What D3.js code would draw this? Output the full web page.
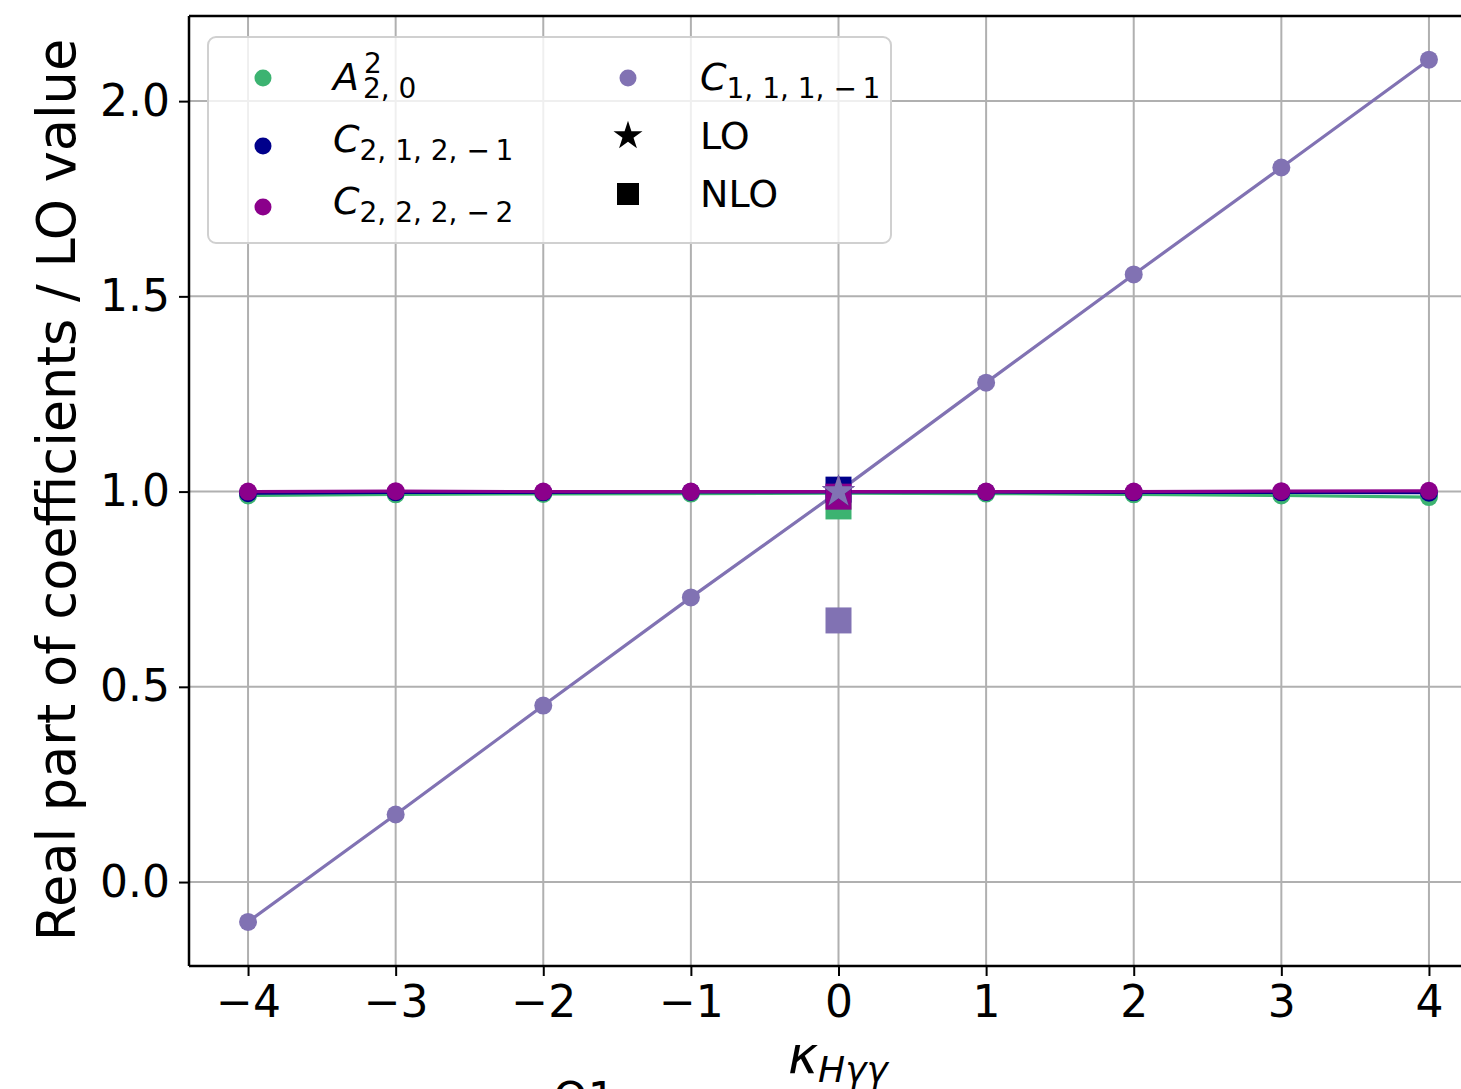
<!DOCTYPE html>
<html>
<head>
<meta charset="utf-8">
<script src="https://cdn.jsdelivr.net/npm/d3@7"></script>
<style>
  body { margin: 0; background: white; }
  svg { display: block; font-family: "DejaVu Sans", sans-serif; }
</style>
</head>
<body>
<div id="chartContainer"></div>
<script>
// kappa_Hgg scan points
const kappa = [-4, -3, -2, -1, 0, 1, 2, 3, 4];

// real part of coefficients, normalised to the LO value
const a220   = [0.990, 0.993, 0.994, 0.995, 0.996, 0.995, 0.993, 0.990, 0.986];
const c212m1 = [0.996, 0.998, 0.998, 0.999, 0.999, 0.999, 0.998, 0.998, 0.997];
const c222m2 = [1.000, 1.001, 1.000, 1.000, 1.000, 1.000, 1.000, 1.001, 1.002];
const c111m1 = [-0.102, 0.173, 0.452, 0.729, 1.000, 1.279, 1.556, 1.830, 2.106];

// LO and NLO reference points at kappa = 0 (same order as series)
const loValues  = [1.0, 1.0, 1.0, 1.0];
const nloValues = [0.962, 1.005, 0.987, 0.670];

const xTicks = [-4, -3, -2, -1, 0, 1, 2, 3, 4];
const yTicks = [0.0, 0.5, 1.0, 1.5, 2.0];

const seriesColors = ["#3cb371", "#00008b", "#8b008b", "#8172b3"];

let svg, x, y;

function initializeChart() {
    const W = 1461, H = 1089;
    const plot = { left: 189, top: 16, right: 1488, bottom: 966 };

    svg = d3.select("#chartContainer").append("svg")
        .attr("width", W)
        .attr("height", H);

    x = d3.scaleLinear().domain([-4.4, 4.4]).range([plot.left, plot.right]);
    y = d3.scaleLinear().domain([-0.215, 2.218]).range([plot.bottom, plot.top]);

    // grid
    svg.append("g").selectAll("line")
        .data(xTicks).enter().append("line")
        .attr("x1", d => x(d)).attr("x2", d => x(d))
        .attr("y1", plot.top).attr("y2", plot.bottom)
        .attr("stroke", "#b0b0b0").attr("stroke-width", 2);
    svg.append("g").selectAll("line")
        .data(yTicks).enter().append("line")
        .attr("x1", plot.left).attr("x2", plot.right)
        .attr("y1", d => y(d)).attr("y2", d => y(d))
        .attr("stroke", "#b0b0b0").attr("stroke-width", 2);

    // axes
    const xAxis = svg.append("g")
        .attr("transform", `translate(0,${plot.bottom})`)
        .call(d3.axisBottom(x).tickValues(xTicks).tickSize(10).tickPadding(10).tickSizeOuter(0));
    const yAxis = svg.append("g")
        .attr("transform", `translate(${plot.left},0)`)
        .call(d3.axisLeft(y).tickValues(yTicks).tickFormat(d3.format(".1f")).tickSize(10).tickPadding(9).tickSizeOuter(0));

    [xAxis, yAxis].forEach(ax => {
        ax.select(".domain").remove();
        ax.selectAll(".tick line").attr("stroke", "black").attr("stroke-width", 2);
        ax.selectAll(".tick text")
            .attr("font-size", 44)
            .attr("font-family", "DejaVu Sans")
            .attr("fill", "black");
    });

    // spines (right one falls outside the figure)
    svg.append("line").attr("x1", plot.left).attr("x2", plot.left)
        .attr("y1", plot.top).attr("y2", plot.bottom)
        .attr("stroke", "black").attr("stroke-width", 2.5);
    svg.append("line").attr("x1", plot.left).attr("x2", W)
        .attr("y1", plot.bottom).attr("y2", plot.bottom)
        .attr("stroke", "black").attr("stroke-width", 2.5);
    svg.append("line").attr("x1", plot.left).attr("x2", W)
        .attr("y1", plot.top).attr("y2", plot.top)
        .attr("stroke", "black").attr("stroke-width", 2.5);

    // axis labels
    svg.append("text")
        .attr("transform", "translate(75,490) rotate(-90)")
        .attr("text-anchor", "middle")
        .attr("font-size", 52.5)
        .text("Real part of coefficients / LO value");

    const xl = svg.append("text")
        .attr("x", 788).attr("y", 1073)
        .attr("font-size", 51)
        .attr("font-style", "italic");
    xl.append("tspan").text("κ");
    xl.append("tspan").attr("font-size", 36).attr("dy", 9).text("Hγγ");

    // text below the figure, only its top shows
    svg.append("text")
        .attr("x", 553).attr("y", 1114)
        .attr("font-size", 44)
        .text("Q1");
}

function drawChart() {
    const allSeries = [a220, c212m1, c222m2, c111m1];
    const lineFunction = d3.line()
        .x((d, i) => x(kappa[i]))
        .y(d => y(d));

    allSeries.forEach((vals, s) => {
        svg.append("path")
            .datum(vals)
            .attr("d", lineFunction)
            .attr("fill", "none")
            .attr("stroke", seriesColors[s])
            .attr("stroke-width", 3.2);

        svg.append("g").selectAll("circle")
            .data(vals).enter().append("circle")
            .attr("cx", (d, i) => x(kappa[i]))
            .attr("cy", d => y(d))
            .attr("r", 9)
            .attr("fill", seriesColors[s]);
    });

    // NLO squares then LO stars at kappa = 0
    nloValues.forEach((v, s) => {
        svg.append("path")
            .attr("d", d3.symbol(d3.symbolSquare, 676)())
            .attr("transform", `translate(${x(0)},${y(v)})`)
            .attr("fill", seriesColors[s]);
    });
    loValues.forEach((v, s) => {
        svg.append("path")
            .attr("d", d3.symbol(d3.symbolStar, 330)())
            .attr("transform", `translate(${x(0)},${y(v)})`)
            .attr("fill", seriesColors[s]);
    });
}

function drawLegend() {
    const lg = svg.append("g");
    lg.append("rect")
        .attr("x", 208).attr("y", 37)
        .attr("width", 683).attr("height", 206)
        .attr("rx", 8)
        .attr("fill", "white").attr("fill-opacity", 0.8)
        .attr("stroke", "#d0d0d0").attr("stroke-width", 2);

    const leftRows = [
        { my: 78, ty: 90, base: "A", sub: "2, 0", sup: "2", color: seriesColors[0] },
        { my: 146, ty: 152, base: "C", sub: "2, 1, 2, \u2212\u20091", color: seriesColors[1] },
        { my: 207, ty: 214, base: "C", sub: "2, 2, 2, \u2212\u20092", color: seriesColors[2] }
    ];
    const rightRows = [
        { my: 78, ty: 90, base: "C", sub: "1, 1, 1, \u2212\u20091", color: seriesColors[3], shape: "circle" },
        { my: 136, ty: 149, plain: "LO", color: "black", shape: "star" },
        { my: 194, ty: 207, plain: "NLO", color: "black", shape: "square" }
    ];

    function mathLabel(xPos, row) {
        if (row.plain) {
            lg.append("text").attr("x", xPos).attr("y", row.ty).attr("font-size", 38).text(row.plain);
            return;
        }
        if (row.sup) {
            lg.append("text").attr("x", xPos).attr("y", row.ty).attr("font-size", 38)
                .attr("font-style", "italic").text(row.base);
            lg.append("text").attr("x", xPos + 31).attr("y", row.ty - 17).attr("font-size", 28).text(row.sup);
            lg.append("text").attr("x", xPos + 30).attr("y", row.ty + 8).attr("font-size", 28).text(row.sub);
            return;
        }
        const t = lg.append("text").attr("x", xPos).attr("y", row.ty).attr("font-size", 38);
        t.append("tspan").attr("font-style", "italic").text(row.base);
        t.append("tspan").attr("font-size", 28).attr("dy", 8).text(row.sub);
    }

    leftRows.forEach(r => {
        lg.append("circle").attr("cx", 263).attr("cy", r.my).attr("r", 8.5).attr("fill", r.color);
        mathLabel(333, r);
    });
    rightRows.forEach(r => {
        if (r.shape === "circle") {
            lg.append("circle").attr("cx", 628).attr("cy", r.my).attr("r", 8.5).attr("fill", r.color);
        } else {
            const sym = r.shape === "star" ? d3.symbol(d3.symbolStar, 260) : d3.symbol(d3.symbolSquare, 484);
            lg.append("path").attr("d", sym()).attr("transform", `translate(628,${r.my})`).attr("fill", r.color);
        }
        mathLabel(700, r);
    });
}

document.addEventListener("DOMContentLoaded", () => {
    initializeChart();
    drawChart();
    drawLegend();
});
</script>
</body>
</html>
